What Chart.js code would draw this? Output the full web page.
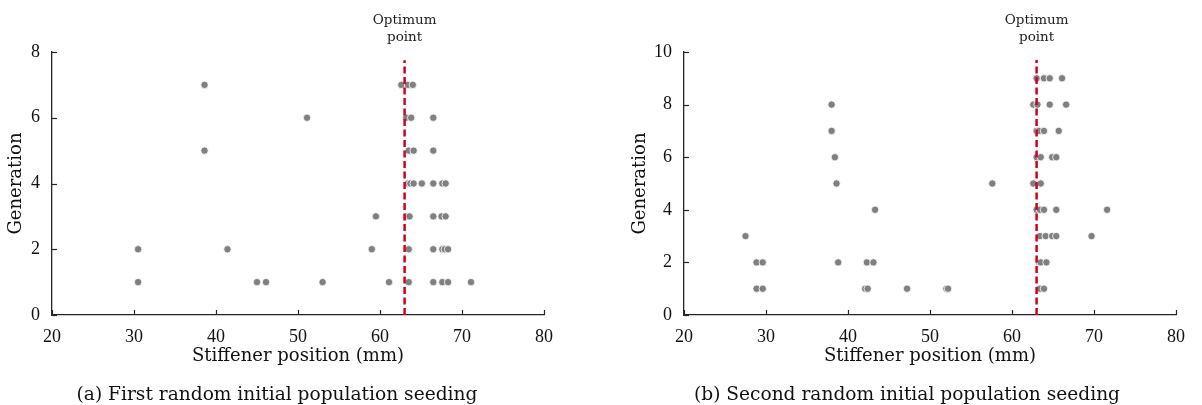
<!DOCTYPE html>
<html>
<head>
<meta charset="utf-8">
<script src="https://cdn.jsdelivr.net/npm/chart.js@4/dist/chart.umd.min.js"></script>
<style>
  body { margin: 0; background: #fff; }
  .wrap { position: absolute; top: 0; height: 405px; }
  .cap { position: absolute; top: 383px; font-family: "DejaVu Serif", serif; font-size: 18.6px; color: #111; text-align: center; white-space: nowrap; }
</style>
</head>
<body>
<div class="wrap" style="left:0;width:600px"><canvas id="chartA"></canvas></div>
<div class="wrap" style="left:600px;width:602px"><canvas id="chartB"></canvas></div>
<div class="cap" style="left:0;width:554px">(a) First random initial population seeding</div>
<div class="cap" style="left:600px;width:614px">(b) Second random initial population seeding</div>
<script>
// stiffener position (mm) and generation for each individual
const posA = [38.6, 62.6, 63.4, 64.0,
  51.1, 63.2, 63.8, 66.5,
  38.6, 63.5, 64.1, 66.5,
  63.4, 63.7, 64.1, 65.1, 66.5, 67.6, 68.0,
  59.5, 63.3, 63.6, 66.5, 67.5, 68.0,
  30.5, 41.4, 59.0, 63.5, 66.5, 67.6, 67.9, 68.3,
  30.5, 45.0, 46.1, 53.0, 61.1, 63.5, 66.5, 67.6, 68.3, 71.1];
const genA = [7, 7, 7, 7,
  6, 6, 6, 6,
  5, 5, 5, 5,
  4, 4, 4, 4, 4, 4, 4,
  3, 3, 3, 3, 3, 3,
  2, 2, 2, 2, 2, 2, 2, 2,
  1, 1, 1, 1, 1, 1, 1, 1, 1, 1];

const posB = [63.0, 63.9, 64.6, 66.1,
  38.0, 62.6, 63.1, 64.6, 66.6,
  38.0, 63.0, 63.3, 63.9, 65.7,
  38.4, 63.0, 63.5, 64.9, 65.4,
  38.6, 57.6, 62.6, 63.5,
  43.3, 63.0, 63.4, 63.9, 65.4, 71.6,
  27.5, 63.4, 64.1, 64.9, 65.4, 69.7,
  28.85, 29.6, 38.8, 42.3, 43.1, 63.3, 63.5, 64.2,
  28.85, 29.6, 42.1, 42.4, 47.2, 52.0, 52.2, 63.4, 63.9];
const genB = [9, 9, 9, 9,
  8, 8, 8, 8, 8,
  7, 7, 7, 7, 7,
  6, 6, 6, 6, 6,
  5, 5, 5, 5,
  4, 4, 4, 4, 4, 4,
  3, 3, 3, 3, 3, 3,
  2, 2, 2, 2, 2, 2, 2, 2,
  1, 1, 1, 1, 1, 1, 1, 1, 1];

const optimum = 63;
const xTicks = [20, 30, 40, 50, 60, 70, 80];
const yMaxA = 8, yMaxB = 10;
const lineTopA = 7.75, lineTopB = 9.7;

const serif = '"Liberation Serif", serif';
const wide = '"DejaVu Serif", serif';

// MATLAB style ticks pointing into the plot
const inwardTicks = {
  id: 'inwardTicks',
  afterDraw(chart) {
    const c = chart.ctx, a = chart.chartArea;
    c.save();
    c.strokeStyle = '#262626';
    c.lineWidth = 1.2;
    const xs = chart.scales.x, ys = chart.scales.y;
    xs.ticks.forEach(t => {
      const px = Math.round(xs.getPixelForValue(t.value)) + 0.5;
      c.beginPath(); c.moveTo(px, a.bottom); c.lineTo(px, a.bottom - 5); c.stroke();
    });
    ys.ticks.forEach(t => {
      const py = Math.round(ys.getPixelForValue(t.value)) + 0.5;
      c.beginPath(); c.moveTo(a.left, py); c.lineTo(a.left + 5, py); c.stroke();
    });
    // optimum label
    const ox = xs.getPixelForValue(optimum);
    c.fillStyle = '#222';
    c.font = '13.5px ' + wide;
    c.textAlign = 'center';
    c.textBaseline = 'middle';
    c.fillText('Optimum', ox, a.top - 32);
    c.fillText('point', ox, a.top - 15);
    c.restore();
  }
};

function makeChart(id, pos, gen, yMax, lineTop, yWidth, padLeft, padRight) {
  const pts = pos.map((p, i) => ({x: p, y: gen[i]}));
  return new Chart(document.getElementById(id), {
    type: 'scatter',
    data: {
      datasets: [
        {
          type: 'line',
          data: [{x: optimum, y: 0}, {x: optimum, y: lineTop}],
          borderColor: '#d0021b',
          borderWidth: 2.5,
          borderDash: [7, 3.5],
          pointRadius: 0,
          order: 0
        },
        {
          data: pts,
          backgroundColor: '#808080',
          borderColor: '#ffffff',
          borderWidth: 0.8,
          pointRadius: 3.7,
          order: 1
        }
      ]
    },
    options: {
      responsive: true,
      maintainAspectRatio: false,
      animation: false,
      layout: { padding: { top: 52, right: padRight, bottom: 34, left: padLeft } },
      plugins: { legend: { display: false }, tooltip: { enabled: false } },
      scales: {
        x: {
          type: 'linear', min: 20, max: 80,
          afterBuildTicks: s => { s.ticks = xTicks.map(v => ({value: v})); },
          afterFit: s => { s.height = 56; },
          border: { color: '#262626', width: 1.3 },
          grid: { display: false },
          ticks: { color: '#111', font: { family: serif, size: 18 }, padding: 3 },
          title: { display: true, text: 'Stiffener position (mm)', color: '#111',
                   font: { family: wide, size: 18 }, padding: { top: 2 } }
        },
        y: {
          type: 'linear', min: 0, max: yMax,
          ticks: { stepSize: 2, color: '#111', font: { family: serif, size: 18 }, padding: 4 },
          afterFit: s => { s.width = yWidth; },
          border: { color: '#262626', width: 1.3 },
          grid: { display: false },
          title: { display: true, text: 'Generation', color: '#111',
                   font: { family: wide, size: 18 }, padding: { top: 4, bottom: 2 } }
        }
      }
    },
    plugins: [inwardTicks]
  });
}

makeChart('chartA', posA, genA, yMaxA, lineTopA, 50, 2, 56);
makeChart('chartB', posB, genB, yMaxB, lineTopB, 58, 26, 26);
</script>
</body>
</html>
